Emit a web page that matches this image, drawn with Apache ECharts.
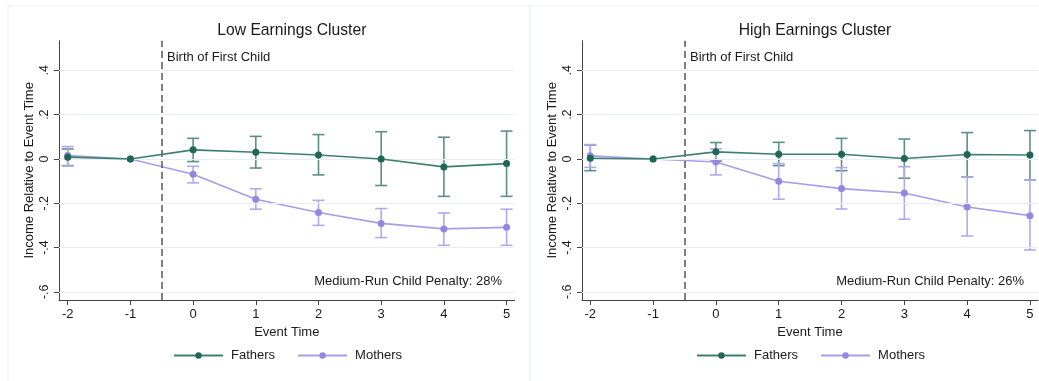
<!DOCTYPE html>
<html>
<head>
<meta charset="utf-8">
<script src="https://cdn.jsdelivr.net/npm/echarts@6/dist/echarts.min.js"></script>
<style>
html,body{margin:0;padding:0;background:#fff;}
#c{width:1039px;height:381px;}
</style>
</head>
<body>
<div id="c"></div>
<script>
// ---- data ----
var eventTime = [-2, -1, 0, 1, 2, 3, 4, 5];
var xTickValues = [-2, -1, 0, 1, 2, 3, 4, 5];
var yTickValues = [-0.6, -0.4, -0.2, 0, 0.2, 0.4];
var yTickLabels = ['-.6', '-.4', '-.2', '0', '.2', '.4'];
var panelTitles = ['Low Earnings Cluster', 'High Earnings Cluster'];
var penaltyTexts = ['Medium-Run Child Penalty: 28%', 'Medium-Run Child Penalty: 26%'];
var eventLineX = -0.5;

var lowFathers   = [0.008, 0, 0.041, 0.030, 0.018, 0.000, -0.036, -0.021];
var lowFathersLo = [-0.030, null, -0.012, -0.041, -0.072, -0.120, -0.169, -0.169];
var lowFathersHi = [0.045, null, 0.093, 0.102, 0.110, 0.123, 0.098, 0.126];
var lowMothers   = [0.015, 0, -0.069, -0.182, -0.242, -0.291, -0.316, -0.309];
var lowMothersLo = [-0.032, null, -0.108, -0.227, -0.300, -0.355, -0.390, -0.390];
var lowMothersHi = [0.056, null, -0.033, -0.135, -0.187, -0.224, -0.244, -0.227];

var highFathers   = [0.003, 0, 0.032, 0.021, 0.021, 0.002, 0.020, 0.018];
var highFathersLo = [-0.053, null, -0.010, -0.030, -0.053, -0.087, -0.081, -0.095];
var highFathersHi = [0.063, null, 0.074, 0.075, 0.093, 0.090, 0.119, 0.128];
var highMothers   = [0.014, 0, -0.014, -0.101, -0.134, -0.154, -0.217, -0.256];
var highMothersLo = [-0.038, null, -0.072, -0.182, -0.226, -0.272, -0.348, -0.411];
var highMothersHi = [0.065, null, 0.045, -0.021, -0.039, -0.035, -0.081, -0.095];

// ---- styling ----
var FONT = 'Liberation Sans, Arial, Helvetica, sans-serif';
var TXT = '#1a1a1a';
var F_LINE = '#3f7f70', F_MARK = '#1f6655', F_CI = '#5a9183';
var M_LINE = '#a99ce9', M_MARK = '#9587df', M_CI = '#b3a8ee';

var grids = [
  {left: 59, top: 40.7, width: 455.6, height: 259.3},
  {left: 582, top: 40.7, width: 456, height: 259.3}
];

function pairs(xs, ys) { return xs.map(function (x, i) { return [x, ys[i]]; }); }
function ciData(xs, lo, hi) {
  var out = [];
  xs.forEach(function (x, i) { if (lo[i] !== null && hi[i] !== null) out.push([x, lo[i], hi[i]]); });
  return out;
}
function errRender(color) {
  return function (params, api) {
    var x = api.value(0);
    var p1 = api.coord([x, api.value(1)]);
    var p2 = api.coord([x, api.value(2)]);
    var w = 6;
    var st = {stroke: color, lineWidth: 1.6};
    return {
      type: 'group',
      children: [
        {type: 'line', shape: {x1: p1[0], y1: p1[1], x2: p2[0], y2: p2[1]}, style: st},
        {type: 'line', shape: {x1: p1[0] - w, y1: p1[1], x2: p1[0] + w, y2: p1[1]}, style: st},
        {type: 'line', shape: {x1: p2[0] - w, y1: p2[1], x2: p2[0] + w, y2: p2[1]}, style: st}
      ]
    };
  };
}

var xAxes = [], yAxes = [], series = [], titles = [], legends = [];
var panels = [
  {f: lowFathers, fLo: lowFathersLo, fHi: lowFathersHi, m: lowMothers, mLo: lowMothersLo, mHi: lowMothersHi},
  {f: highFathers, fLo: highFathersLo, fHi: highFathersHi, m: highMothers, mLo: highMothersLo, mHi: highMothersHi}
];
var xMins = [-2.139, -2.132];

panels.forEach(function (p, k) {
  xAxes.push({
    type: 'value', gridIndex: k, min: xMins[k], max: 5.128,
    name: 'Event Time', nameLocation: 'middle', nameGap: 20,
    nameTextStyle: {fontFamily: FONT, fontSize: 13, color: TXT},
    axisLine: {show: true, onZero: false, lineStyle: {color: '#444', width: 1}},
    axisTick: {show: true, length: 5, customValues: xTickValues, lineStyle: {color: '#444'}},
    axisLabel: {customValues: xTickValues, margin: 8, fontFamily: FONT, fontSize: 13, color: TXT,
      formatter: function (v) { return String(Math.round(v)); }},
    splitLine: {show: false}
  });
  yAxes.push({
    type: 'value', gridIndex: k, min: -0.637, max: 0.534,
    name: 'Income Relative to Event Time', nameLocation: 'middle', nameGap: 23,
    nameTextStyle: {fontFamily: FONT, fontSize: 13, color: TXT},
    axisLine: {show: true, onZero: false, lineStyle: {color: '#444', width: 1}},
    axisTick: {show: true, length: 5, customValues: yTickValues, lineStyle: {color: '#444'}},
    axisLabel: {customValues: yTickValues, rotate: 90, margin: 8, fontFamily: FONT, fontSize: 12.5, color: TXT,
      formatter: function (v) {
        var i = yTickValues.findIndex(function (t) { return Math.abs(t - v) < 1e-6; });
        return i >= 0 ? yTickLabels[i] : '';
      }},
    splitLine: {show: false}
  });
  titles.push({
    text: panelTitles[k], left: grids[k].left + grids[k].width / 2, top: 18, textAlign: 'center',
    textStyle: {fontFamily: FONT, fontSize: 15.7, fontWeight: 'normal', color: TXT}
  });
  legends.push({
    data: ['Fathers', 'Mothers'], left: k === 0 ? 173 : 696, top: 349, padding: 0,
    itemWidth: 49, itemHeight: 8, itemGap: 22,
    textStyle: {fontFamily: FONT, fontSize: 13, color: TXT, padding: [0, 0, 0, 3]}
  });
  // grid lines through the y scale
  series.push({
    type: 'line', name: 'grid' + k, xAxisIndex: k, yAxisIndex: k, data: [], silent: true,
    markLine: {
      silent: true, symbol: 'none', animation: false, label: {show: false},
      lineStyle: {color: '#e6f0f1', width: 1.2, type: 'solid'},
      data: yTickValues.map(function (v) { return {yAxis: v}; })
    }
  });
  series.push({
    type: 'custom', name: 'Fathers CI ' + k, xAxisIndex: k, yAxisIndex: k, z: 3,
    renderItem: errRender(F_CI), data: ciData(eventTime, p.fLo, p.fHi)
  });
  series.push({
    type: 'custom', name: 'Mothers CI ' + k, xAxisIndex: k, yAxisIndex: k, z: 3,
    renderItem: errRender(M_CI), data: ciData(eventTime, p.mLo, p.mHi)
  });
  series.push({
    type: 'line', name: 'Fathers', xAxisIndex: k, yAxisIndex: k, z: 5,
    data: pairs(eventTime, p.f), symbol: 'circle', symbolSize: 7, showAllSymbol: true,
    lineStyle: {color: F_LINE, width: 1.6}, itemStyle: {color: F_MARK}, color: F_MARK,
    markLine: {
      silent: true, symbol: 'none', animation: false, label: {show: false},
      lineStyle: {color: '#555', width: 1.5, type: [7, 4]},
      data: [{xAxis: eventLineX}]
    }
  });
  series.push({
    type: 'line', name: 'Mothers', xAxisIndex: k, yAxisIndex: k, z: 4,
    data: pairs(eventTime, p.m), symbol: 'circle', symbolSize: 7, showAllSymbol: true,
    lineStyle: {color: M_LINE, width: 1.6}, itemStyle: {color: M_MARK}, color: M_MARK
  });
});

var chart = echarts.init(document.getElementById('c'), null, {renderer: 'canvas'});
chart.setOption({
  animation: false,
  backgroundColor: '#ffffff',
  title: titles,
  legend: legends,
  grid: grids,
  xAxis: xAxes,
  yAxis: yAxes,
  series: series,
  graphic: [
    {type: 'rect', shape: {x: 8, y: 6, width: 522, height: 378}, style: {fill: 'none', stroke: '#e8f0f2', lineWidth: 1}, z: -1},
    {type: 'rect', shape: {x: 530, y: 6, width: 512, height: 378}, style: {fill: 'none', stroke: '#e8f0f2', lineWidth: 1}, z: -1},
    {type: 'text', left: 167, top: 51, style: {text: 'Birth of First Child', font: '13px ' + FONT, fill: TXT}},
    {type: 'text', left: 690, top: 51, style: {text: 'Birth of First Child', font: '13px ' + FONT, fill: TXT}},
    {type: 'text', right: 1039 - 502, top: 275, style: {text: penaltyTexts[0], font: '13px ' + FONT, fill: TXT}},
    {type: 'text', right: 1039 - 1024, top: 275, style: {text: penaltyTexts[1], font: '13px ' + FONT, fill: TXT}}
  ]
});
</script>
</body>
</html>
